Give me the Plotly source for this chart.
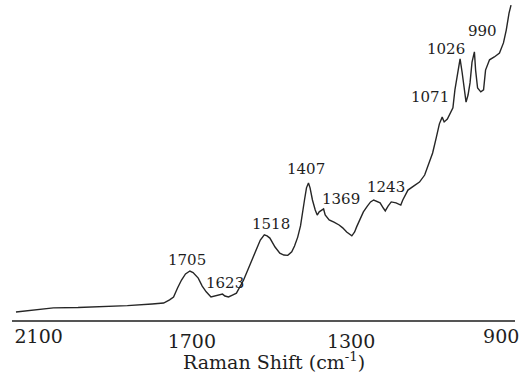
import plotly.graph_objects as go

# Raman spectrum: wavenumber (cm^-1) and intensity (arbitrary units)
wavenumber = [
    2142, 2097, 2048, 1986, 1924, 1862, 1800, 1771, 1756, 1746, 1736, 1726,
    1716, 1705, 1697, 1684, 1674, 1664, 1652, 1640, 1623, 1617, 1608, 1598,
    1588, 1570, 1553, 1536, 1528, 1518, 1511, 1504, 1491, 1479, 1469, 1459,
    1449, 1442, 1434, 1427, 1422, 1417, 1412, 1407, 1403, 1397, 1390, 1385,
    1380, 1369, 1365, 1355, 1343, 1330, 1321, 1311, 1298, 1291, 1286, 1276,
    1269, 1259, 1251, 1243, 1227, 1219, 1214, 1207, 1199, 1187, 1175, 1170,
    1157, 1142, 1128, 1115, 1103, 1095, 1086, 1078, 1071, 1066, 1058, 1051,
    1044, 1039, 1031, 1026, 1021, 1016, 1011, 1006, 1001, 996, 990, 987,
    982, 974, 967, 962, 952, 940, 927, 917, 910, 903, 898,
]
intensity = [
    2.5, 3.1, 3.8, 3.9, 4.1, 4.5, 5.0, 5.3, 6.3, 7.2, 10.0, 12.5,
    14.4, 15.3, 14.8, 13.1, 10.6, 8.8, 7.2, 7.5, 8.1, 7.5, 7.2, 7.8,
    8.4, 12.5, 17.5, 22.8, 25.0, 26.6, 26.3, 25.6, 22.8, 20.9, 20.3, 20.2,
    21.3, 23.1, 25.9, 29.4, 32.8, 37.5, 41.3, 42.8, 41.3, 37.5, 34.4, 32.8,
    33.8, 34.7, 32.8, 31.3, 30.6, 29.7, 28.8, 27.5, 26.3, 27.5, 29.1, 31.9,
    33.8, 35.6, 36.9, 37.5, 36.6, 35.0, 34.1, 35.6, 36.9, 36.6, 35.9, 37.5,
    40.6, 41.9, 43.1, 45.3, 49.1, 52.2, 56.9, 61.3, 63.4, 61.9, 62.8, 64.4,
    66.3, 71.9, 77.2, 81.6, 77.5, 72.8, 68.1, 70.3, 74.1, 80.6, 83.8, 78.1,
    72.5, 71.3, 71.9, 78.1, 81.3, 82.2, 83.4, 86.6, 90.6, 95.9, 98.4,
]

# Labelled bands: position, and label offset (px) from the band maximum
peak_labels = [1705, 1623, 1518, 1407, 1369, 1243, 1071, 1026, 990]
label_dx = [-3, 2, 7, -2, 17, 12, -12, -14, 8]
label_dy = [11, 11, 11, 14, 10, 13, 20, 10, 21]

x_ticks_main = [1700, 1300]
x_tick_left = [2100]
x_tick_right = [900]

x_range = [2152, 888]
serif = "DejaVu Serif"

fig = go.Figure()
fig.add_trace(go.Scatter(
    x=wavenumber, y=intensity, mode="lines",
    line=dict(color="#262626", width=1.4),
    hoverinfo="skip", showlegend=False,
))
# empty traces so the extra label axes exist
fig.add_trace(go.Scatter(x=[], y=[], xaxis="x2", showlegend=False))
fig.add_trace(go.Scatter(x=[], y=[], xaxis="x3", showlegend=False))

for p, dx, dy in zip(peak_labels, label_dx, label_dy):
    fig.add_annotation(
        x=p, y=intensity[wavenumber.index(p)], text=str(p),
        showarrow=False, xanchor="center", yanchor="middle",
        xshift=dx, yshift=dy,
        font=dict(family=serif, size=15, color="#1e1e1e"),
    )

fig.add_annotation(
    xref="paper", yref="paper", x=0.52, y=0, yshift=-41,
    xanchor="center", yanchor="middle", showarrow=False,
    text="Raman Shift (cm<sup>-1</sup>)",
    font=dict(family=serif, size=19, color="#1e1e1e"),
)

tick_font = dict(family=serif, size=19, color="#1e1e1e")
common = dict(range=x_range, showgrid=False, zeroline=False, ticks="",
              tickmode="array", tickfont=tick_font, ticklabelstandoff=3)

fig.update_layout(
    width=520, height=372,
    margin=dict(l=12, r=5, t=0, b=52),
    paper_bgcolor="white", plot_bgcolor="white",
    xaxis=dict(**common, tickvals=x_ticks_main, showline=True,
               linecolor="#555555", linewidth=1.5),
    # reversed axes: a negative shift moves a label to the right
    xaxis2=dict(**common, tickvals=x_tick_left, overlaying="x",
                anchor="y", side="bottom", showline=False,
                ticklabelshift=-6),
    xaxis3=dict(**common, tickvals=x_tick_right, overlaying="x",
                anchor="y", side="bottom", showline=False,
                ticklabelshift=9, ticklabeloverflow="allow"),
    yaxis=dict(range=[0, 100], visible=False),
)

fig.write_html("out.html")
